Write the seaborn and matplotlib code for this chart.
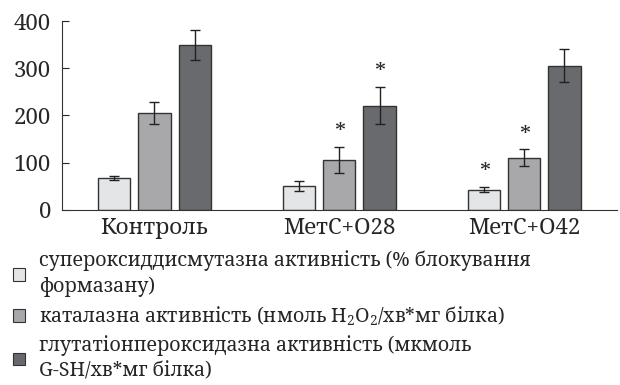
import numpy as np
import pandas as pd
import seaborn as sns
import matplotlib.pyplot as plt
from matplotlib.patches import Patch

# data
groups = ["Контроль", "МетС+О28", "МетС+О42"]
series = [
    "супероксиддисмутазна активність (% блокування\nформазану)",
    "каталазна активність (нмоль $\\mathregular{H_2O_2}$/хв*мг білка)",
    "глутатіонпероксидазна активність (мкмоль\nG-SH/хв*мг білка)",
]
sod = [67, 51, 43]
sod_err = [4, 11, 6]
cat = [206, 106, 110]
cat_err = [23, 27, 18]
gpx = [350, 221, 306]
gpx_err = [32, 40, 35]
# significance marks (* vs control)
sod_sig = [False, False, True]
cat_sig = [False, True, True]
gpx_sig = [False, True, False]

colors = ["#e4e5e7", "#a7a8ac", "#68696e"]

sns.set_style("ticks")
plt.rcParams["font.family"] = ["Noto Serif", "DejaVu Serif"]
plt.rcParams["mathtext.fontset"] = "custom"
plt.rcParams["mathtext.rm"] = "Noto Serif"

df = pd.DataFrame({
    "group": groups * 3,
    "series": [series[0]] * 3 + [series[1]] * 3 + [series[2]] * 3,
    "value": sod + cat + gpx,
})
errs = sod_err + cat_err + gpx_err
vals = sod + cat + gpx
sigs = sod_sig + cat_sig + gpx_sig

fig = plt.figure(figsize=(6.2, 3.85), dpi=100)
ax = fig.add_axes([0.1, 0.455, 0.895, 0.49])

sns.barplot(data=df, x="group", y="value", hue="series", palette=colors,
            width=0.65, gap=0.2, errorbar=None, edgecolor="#333333",
            linewidth=1.0, legend=False, ax=ax)

# error bars and asterisks on top of each bar
for p, v, e, s in zip(ax.patches, vals, errs, sigs):
    xc = p.get_x() + p.get_width() / 2
    ax.errorbar(xc, v, yerr=e, fmt="none", ecolor="#222222", elinewidth=1.0,
                capsize=3.5, capthick=1.0)
    if s:
        ax.text(xc, v + e + 6, "*", ha="center", va="bottom", fontsize=16,
                clip_on=False)

ax.set_xlim(-0.5, 2.5)
ax.set_ylim(0, 400)
ax.set_yticks([0, 100, 200, 300, 400])
ax.set_xlabel("")
ax.set_ylabel("")
ax.tick_params(axis="y", direction="in", length=5, labelsize=16, pad=8)
ax.tick_params(axis="x", length=0, labelsize=16, pad=5)
sns.despine(ax=ax)
for sp in ["left", "bottom"]:
    ax.spines[sp].set_color("#333333")

handles = [Patch(facecolor=c, edgecolor="#333333", linewidth=0.8) for c in colors]
leg = fig.legend(handles, series, loc="upper left", bbox_to_anchor=(0.012, 0.365),
                 frameon=False, fontsize=14, handlelength=0.62, handleheight=0.62,
                 handletextpad=0.7, labelspacing=0.38, borderaxespad=0.2,
                 borderpad=0.1)
for t in leg.get_texts():
    t.set_linespacing(1.36)

plt.savefig("out.png", dpi=100)
